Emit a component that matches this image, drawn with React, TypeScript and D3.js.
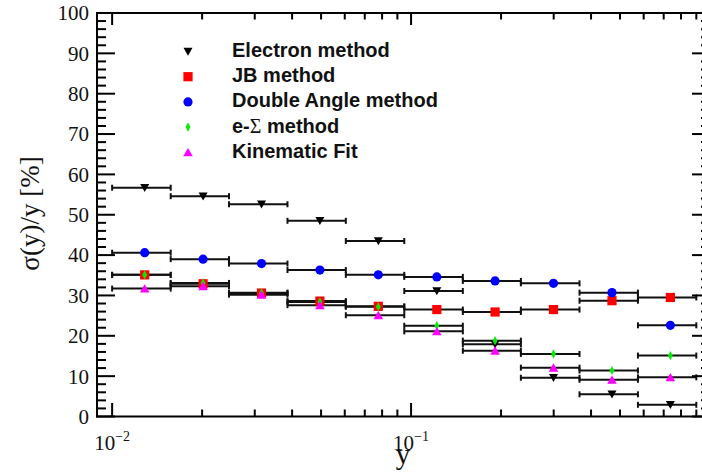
import React from "react";
import * as d3 from "d3";

const binEdges = [0.01, 0.0157, 0.0246, 0.0386, 0.0605, 0.0949, 0.149, 0.233, 0.366, 0.574, 0.9];
const electron = [56.7, 54.6, 52.6, 48.5, 43.5, 31.1, 17.9, 9.6, 5.5, 2.9];
const jb = [35.1, 32.9, 30.6, 28.6, 27.3, 26.5, 25.9, 26.5, 28.7, 29.5];
const doubleAngle = [40.6, 39.0, 37.9, 36.3, 35.1, 34.6, 33.6, 33.0, 30.7, 22.6];
const eSigma = [35.1, 33.1, 30.7, 28.4, 27.2, 22.5, 18.8, 15.5, 11.4, 15.1];
const kinFit = [31.7, 32.3, 30.2, 27.6, 25.1, 21.1, 16.3, 12.1, 9.1, 9.7];
const yTicks = [0, 10, 20, 30, 40, 50, 60, 70, 80, 90, 100];
const xMajorTicks = [0.01, 0.1];
const xMajorExp = ["\u22122", "\u22121"];

type Series = { name: string; values: number[]; color: string; marker: string };
const series: Series[] = [
  { name: "Electron method", values: electron, color: "#000000", marker: "tridown" },
  { name: "JB method", values: jb, color: "#ff0000", marker: "square" },
  { name: "Double Angle method", values: doubleAngle, color: "#0000ff", marker: "circle" },
  { name: "e-\u03A3 method", values: eSigma, color: "#00ee00", marker: "diamond" },
  { name: "Kinematic Fit", values: kinFit, color: "#ff00ff", marker: "triup" },
];

const W = 702;
const H = 475;
const x = d3.scaleLog().domain([0.0089, 1]).range([97, 710]);
const y = d3.scaleLinear().domain([0, 100]).range([416.5, 13]);

function Marker({ kind, cx, cy, color }: { kind: string; cx: number; cy: number; color: string }) {
  if (kind === "circle") return <circle cx={cx} cy={cy} r={4.6} fill={color} />;
  if (kind === "square") return <rect x={cx - 4.6} y={cy - 4.6} width={9.2} height={9.2} fill={color} />;
  if (kind === "tridown")
    return <path d={`M${cx - 4.5},${cy - 3.8}L${cx + 4.5},${cy - 3.8}L${cx},${cy + 4.2}Z`} fill={color} />;
  if (kind === "triup")
    return <path d={`M${cx - 4.8},${cy + 4}L${cx + 4.8},${cy + 4}L${cx},${cy - 4.4}Z`} fill={color} />;
  return <path d={`M${cx},${cy - 4.6}L${cx + 2.4},${cy}L${cx},${cy + 4.6}L${cx - 2.4},${cy}Z`} fill={color} />;
}

export default function App() {
  const minorX: number[] = [];
  for (const dec of [0.01, 0.1]) for (let k = 2; k <= 9; k++) minorX.push(dec * k);
  const minorY: number[] = d3.range(0, 101, 2).filter((v) => v % 10 !== 0);
  const serif = "'Liberation Serif', 'Times New Roman', serif";
  const sans = "'Liberation Sans', Arial, sans-serif";
  const legendX = 188;
  const legendY0 = 51.5;
  const legendDy = 25.2;

  return (
    <svg width={W} height={H} style={{ position: "absolute", left: 0, top: 0, background: "#fff" }}>
      <rect x={0} y={0} width={W} height={H} fill="#fff" />
      {/* error bars */}
      {series.map((s) => (
        <g key={s.name + "bars"} stroke="#111" strokeWidth={2}>
          {s.values.map((v, i) => {
            const x0 = x(binEdges[i]);
            const x1 = x(binEdges[i + 1]);
            const yy = y(v);
            return (
              <g key={i}>
                <line x1={x0} x2={x1} y1={yy} y2={yy} />
                <line x1={x0} x2={x0} y1={yy - 3} y2={yy + 3} />
                <line x1={x1} x2={x1} y1={yy - 3} y2={yy + 3} />
              </g>
            );
          })}
        </g>
      ))}
      {/* markers */}
      {series.map((s) => (
        <g key={s.name + "mk"}>
          {s.values.map((v, i) => (
            <Marker key={i} kind={s.marker} cx={x((binEdges[i] + binEdges[i + 1]) / 2)} cy={y(v)} color={s.color} />
          ))}
        </g>
      ))}
      {/* frame */}
      <g stroke="#000" strokeWidth={2} fill="none">
        <line x1={97} x2={97} y1={12} y2={417.5} />
        <line x1={96} x2={711} y1={416.5} y2={416.5} />
        <line x1={96} x2={711} y1={13} y2={13} />
        <line x1={710} x2={710} y1={12} y2={417.5} />
      </g>
      {/* y ticks */}
      <g stroke="#000" strokeWidth={2}>
        {yTicks.map((t) => (
          <g key={"yt" + t}>
            <line x1={97} x2={115} y1={y(t)} y2={y(t)} />
            <line x1={710} x2={692} y1={y(t)} y2={y(t)} />
          </g>
        ))}
        {minorY.map((t) => (
          <g key={"ym" + t}>
            <line x1={97} x2={106} y1={y(t)} y2={y(t)} />
            <line x1={710} x2={701} y1={y(t)} y2={y(t)} />
          </g>
        ))}
      </g>
      {/* x ticks */}
      <g stroke="#000" strokeWidth={2}>
        {xMajorTicks.map((t) => (
          <g key={"xt" + t}>
            <line x1={x(t)} x2={x(t)} y1={416.5} y2={403} />
            <line x1={x(t)} x2={x(t)} y1={13} y2={25} />
          </g>
        ))}
        {minorX.map((t) => (
          <g key={"xm" + t}>
            <line x1={x(t)} x2={x(t)} y1={416.5} y2={409.5} />
            <line x1={x(t)} x2={x(t)} y1={13} y2={19.5} />
          </g>
        ))}
      </g>
      {/* y tick labels */}
      <g fontFamily={serif} fontSize={21} textAnchor="end" fill="#111">
        {yTicks.map((t) => (
          <text key={"yl" + t} x={89} y={y(t)} dy="0.35em">
            {t}
          </text>
        ))}
      </g>
      {/* x tick labels */}
      <g fontFamily={serif} fill="#111">
        {xMajorTicks.map((t, i) => (
          <text key={"xl" + t} x={x(t)} y={450} textAnchor="middle" fontSize={21}>
            10
            <tspan fontSize={14} dy={-9}>
              {xMajorExp[i]}
            </tspan>
          </text>
        ))}
      </g>
      {/* axis titles */}
      <text x={403} y={464} fontFamily={serif} fontSize={29} textAnchor="middle" fill="#111">
        y
      </text>
      <text
        transform="translate(39,213.5) rotate(-90)"
        fontFamily={serif}
        fontSize={27}
        textAnchor="middle"
        fill="#111"
      >
        {"\u03C3(y)/y [%]"}
      </text>
      {/* legend */}
      {series.map((s, i) => {
        const ly = legendY0 + i * legendDy;
        const isSigma = s.marker === "diamond";
        return (
          <g key={"lg" + s.name}>
            <Marker kind={s.marker} cx={legendX} cy={ly} color={s.color} />
            <text x={232} y={ly + 5.5} fontFamily={sans} fontWeight="bold" fontSize={20} fill="#111">
              {isSigma ? (
                <>
                  e-
                  <tspan fontFamily={serif} fontWeight="normal">
                    {"\u03A3"}
                  </tspan>{" "}
                  method
                </>
              ) : (
                s.name
              )}
            </text>
          </g>
        );
      })}
    </svg>
  );
}
